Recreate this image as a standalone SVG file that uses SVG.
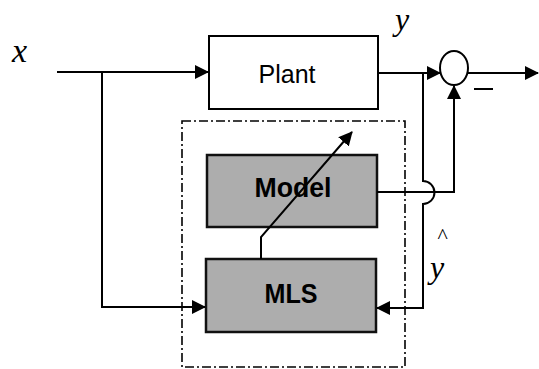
<svg xmlns="http://www.w3.org/2000/svg" width="539" height="369" viewBox="0 0 539 369">
<style>
.ln{fill:none;stroke:#000;stroke-width:2}
.box{fill:#fff;stroke:#000;stroke-width:2}
.gbox{fill:#adadad;stroke:#111;stroke-width:2.5}
.lbl{font-family:"Liberation Sans",Arial,sans-serif;fill:#000}
.math{font-family:"Liberation Serif","Times New Roman",serif;font-style:italic;fill:#000}
</style>
<defs>
<marker id="ah" markerWidth="14" markerHeight="14" refX="13" refY="7" orient="auto" markerUnits="userSpaceOnUse">
<path d="M0,0 L14,7 L0,14 Z" fill="#000"/>
</marker>
</defs>
<rect x="0" y="0" width="539" height="369" fill="#fff"/>
<g id="group-box">
<rect x="182" y="121" width="223" height="246" fill="none" stroke="#000" stroke-width="1.6" stroke-dasharray="9,3,2,3"/>
</g>
<g id="plant">
<rect class="box" x="209" y="36" width="169" height="73"/>
<text class="lbl" x="287" y="83" font-size="25" text-anchor="middle">Plant</text>
</g>
<g id="model">
<rect class="gbox" x="207" y="155" width="170" height="72"/>
<text class="lbl" x="293" y="197" font-size="28" font-weight="bold" text-anchor="middle" textLength="77" lengthAdjust="spacingAndGlyphs">Model</text>
</g>
<g id="mls">
<rect class="gbox" x="206" y="259" width="170" height="73"/>
<text class="lbl" x="291" y="303" font-size="28" font-weight="bold" text-anchor="middle" textLength="53" lengthAdjust="spacingAndGlyphs">MLS</text>
</g>
<g id="sum">
<ellipse cx="454" cy="68" rx="14" ry="17" fill="#fff" stroke="#000" stroke-width="2"/>
</g>
<g id="connectors">
<path class="ln" d="M57,72 H208" marker-end="url(#ah)"/>
<path class="ln" d="M102,72 V307 H205" marker-end="url(#ah)"/>
<path class="ln" d="M378,73 H440" marker-end="url(#ah)"/>
<path class="ln" d="M468,73 H538" marker-end="url(#ah)"/>
<path class="ln" d="M423,73 V181 A11.5,11.5 0 0 1 423,204 V308 H377" marker-end="url(#ah)"/>
<path class="ln" d="M377,192 H454 V86" marker-end="url(#ah)"/>
<path class="ln" d="M261,259 V237 L352,132" marker-end="url(#ah)"/>
</g>
<g id="labels">
<text class="math" x="12" y="62" font-size="34">x</text>
<text class="math" x="395" y="30" font-size="32">y</text>
<text class="math" x="437" y="243" font-size="22">^</text>
<text class="math" x="430" y="278" font-size="32">y</text>
<path d="M474,89 H493" stroke="#000" stroke-width="2"/>
</g>
</svg>
